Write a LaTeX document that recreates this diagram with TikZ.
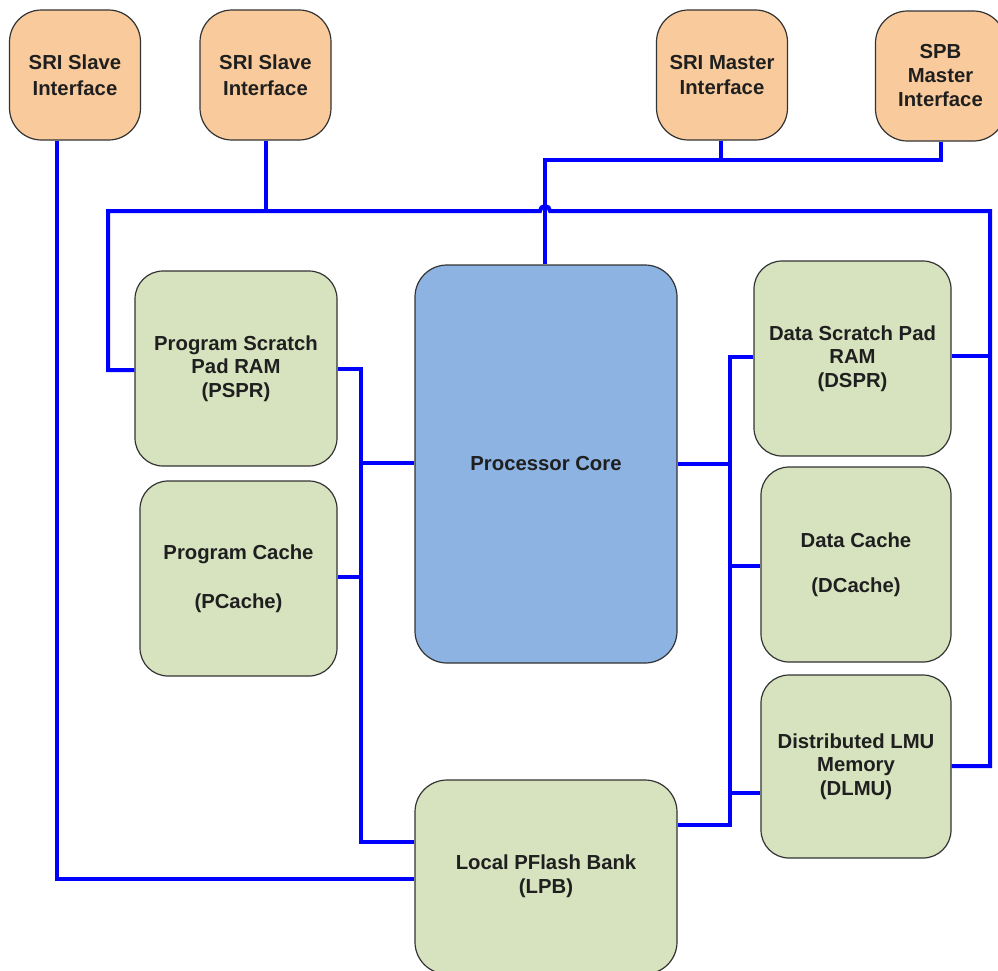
\documentclass[tikz,border=0pt]{standalone}
\usepackage{fontspec}
\setmainfont{Liberation Sans}
\definecolor{peach}{HTML}{F9CB9C}
\definecolor{memgreen}{HTML}{D7E3BF}
\definecolor{coreblue}{HTML}{8DB3E2}
\definecolor{busblue}{HTML}{0000FF}
\begin{document}
\begin{tikzpicture}[x=1pt,y=-1pt,
  box/.style={draw=black!80, line width=1.2pt, rounded corners=28pt, align=center,
    font=\bfseries\fontsize{20.3}{23.5}\selectfont, text=black!88, inner sep=0pt},
  iface/.style={box, fill=peach, minimum width=131pt, minimum height=130pt, rounded corners=32pt},
  mem/.style={box, fill=memgreen},
  bus/.style={draw=busblue, line width=4pt}]
\useasboundingbox (0,0) rectangle (998,970);
\clip (0,0) rectangle (998,970);
% interfaces
\node[iface, font=\bfseries\fontsize{20.3}{25.5}\selectfont] (s1) at (75,75) {SRI Slave\\Interface};
\node[iface, font=\bfseries\fontsize{20.3}{25.5}\selectfont] (s2) at (265.5,75) {SRI Slave\\Interface};
\node[iface, font=\bfseries\fontsize{20.3}{25.5}\selectfont] (sm) at (722,75) {SRI Master\\Interface};
\node[iface, minimum width=130pt, font=\bfseries\fontsize{20.3}{24}\selectfont] (spb) at (940.5,76) {SPB\\Master\\Interface};
% memories and core
\node[mem, minimum width=202pt, minimum height=195pt] (pspr) at (236,368.5) {Program Scratch\\Pad RAM\\(PSPR)};
\node[mem, minimum width=197pt, minimum height=195pt] (pc) at (238.5,578.5) {Program Cache\\[26pt](PCache)};
\node[box, fill=coreblue, minimum width=262pt, minimum height=398pt, rounded corners=32pt] (core) at (546,464) {Processor Core};
\node[mem, minimum width=197pt, minimum height=195pt] (dspr) at (852.5,358.5) {Data Scratch Pad\\RAM\\(DSPR)};
\node[mem, minimum width=190pt, minimum height=195pt] (dc) at (856,564.5) {Data Cache\\[22pt](DCache)};
\node[mem, minimum width=190pt, minimum height=183pt] (dlmu) at (856,766.5) {Distributed LMU\\Memory\\(DLMU)};
\node[mem, minimum width=262pt, minimum height=194pt, rounded corners=32pt] (lpb) at (546,877) {};
\node[font=\bfseries\fontsize{20.3}{23.5}\selectfont, text=black!88, align=center] (lpbt) at (546,876) {Local PFlash Bank\\(LPB)};
% connectors
\draw[bus] (s1.south -| 57,0) -- (57,879) -- (lpb.west |- 0,879);
\draw[bus] (s2.south) -- (265.5,211);
\draw[bus] (pspr.west |- 0,370) -- (108,370) -- (108,211) -- (540,211) arc (180:360:5) -- (990,211) -- (990,766) -- (dlmu.east |- 0,766);
\draw[bus] (990,356) -- (dspr.east |- 0,356);
\draw[bus] (sm.south -| 721,0) -- (721,160);
\draw[bus] (spb.south -| 941,0) -- (941,160) -- (545,160) -- (core.north -| 545,0);
% left cluster
\draw[bus] (pspr.east |- 0,369) -- (361,369) -- (361,842) -- (lpb.west |- 0,842);
\draw[bus] (361,463) -- (core.west |- 0,463);
\draw[bus] (pc.east |- 0,577) -- (361,577);
% right cluster
\draw[bus] (dspr.west |- 0,357) -- (730,357) -- (730,825) -- (lpb.east |- 0,825);
\draw[bus] (core.east |- 0,464) -- (730,464);
\draw[bus] (730,566) -- (dc.west |- 0,566);
\draw[bus] (730,793) -- (dlmu.west |- 0,793);
\end{tikzpicture}
\end{document}
